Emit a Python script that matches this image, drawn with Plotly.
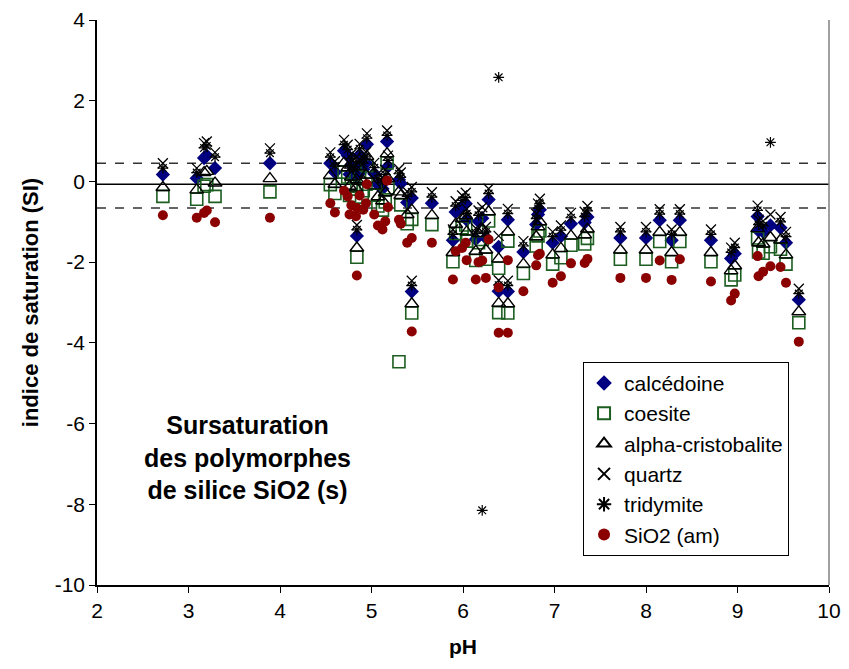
import plotly.graph_objects as go

# ---- data ----
ph = [2.72, 3.09, 3.17, 3.20, 3.29, 3.89,
      4.55, 4.60, 4.70, 4.74, 4.76, 4.78, 4.83, 4.84, 4.84, 4.87, 4.91, 4.94, 4.95,
      5.03, 5.07, 5.12, 5.15, 5.17, 5.18, 5.30, 5.32, 5.39, 5.44, 5.44,
      5.66, 5.89, 5.92, 5.99, 6.03, 6.04, 6.14, 6.17, 6.21, 6.25, 6.28, 6.39, 6.39,
      6.49, 6.49, 6.66, 6.80, 6.82, 6.84, 6.98, 7.07, 7.18, 7.33, 7.36,
      7.72, 8.00, 8.15, 8.28, 8.37, 8.71, 8.93, 8.97, 9.22, 9.23, 9.28, 9.36, 9.47,
      9.53, 9.67]

calcedoine = [0.17, 0.08, 0.58, 0.64, 0.33, 0.45,
              0.45, 0.23, 0.76, 0.64, 0.18, 0.41, 0.14, 0.34, -1.35, 0.66, 0.30, 0.46, 0.92,
              0.19, -0.08, -0.18, 0.02, 0.99, 0.37, 0.04, -0.05, -0.52, -0.41, -2.73,
              -0.54, -1.46, -0.76, -0.62, -0.55, -0.95, -1.43, -0.99, -0.91, -1.40, -0.45, -1.62, -2.72,
              -0.95, -2.73, -1.75, -1.07, -0.82, -0.70, -1.52, -1.36, -1.05, -1.02, -0.88,
              -1.40, -1.40, -0.96, -1.46, -0.96, -1.46, -1.91, -1.79, -0.87, -1.22, -1.25, -1.09, -1.15,
              -1.52, -2.93]

coesite = [-0.37, -0.44, -0.12, -0.08, -0.37, -0.26,
           -0.08, -0.30, 0.23, 0.11, -0.35, -0.12, -0.39, -0.19, -1.88, 0.13, -0.23, -0.07, 0.39,
           -0.34, -0.61, -0.71, -0.51, 0.46, -0.16, -4.47, -0.58, -1.05, -0.94, -3.26,
           -1.07, -1.99, -1.29, -1.15, -1.08, -1.48, -1.96, -1.52, -1.44, -1.93, -0.98, -2.15, -3.25,
           -1.48, -3.26, -2.28, -1.60, -1.35, -1.23, -2.05, -1.89, -1.58, -1.55, -1.41,
           -1.93, -1.93, -1.49, -1.99, -1.49, -1.99, -2.44, -2.32, -1.40, -1.75, -1.78, -1.62, -1.68,
           -2.05, -3.50]

alpha_cristobalite = [-0.15, -0.21, 0.22, 0.25, -0.04, 0.07,
                      0.15, -0.07, 0.46, 0.34, -0.12, 0.11, -0.16, 0.04, -1.65, 0.36, 0.00, 0.16, 0.62,
                      -0.11, -0.38, -0.48, -0.28, 0.69, 0.07, -0.26, -0.35, -0.82, -0.71, -3.03,
                      -0.84, -1.76, -1.06, -0.92, -0.85, -1.25, -1.73, -1.29, -1.21, -1.70, -0.75, -1.92, -3.02,
                      -1.25, -3.03, -2.05, -1.37, -1.12, -1.00, -1.82, -1.66, -1.35, -1.32, -1.18,
                      -1.70, -1.70, -1.26, -1.76, -1.26, -1.76, -2.21, -2.09, -1.17, -1.52, -1.55, -1.39, -1.45,
                      -1.82, -3.23]

quartz = [0.45, 0.33, 0.95, 0.99, 0.72, 0.82,
          0.72, 0.50, 1.03, 0.91, 0.45, 0.68, 0.41, 0.61, -1.08, 0.93, 0.57, 0.73, 1.19,
          0.46, 0.19, 0.09, 0.29, 1.26, 0.64, 0.31, 0.22, -0.25, -0.14, -2.46,
          -0.27, -1.19, -0.49, -0.35, -0.28, -0.68, -1.16, -0.72, -0.64, -1.13, -0.18, -1.35, -2.45,
          -0.68, -2.46, -1.48, -0.80, -0.55, -0.43, -1.25, -1.09, -0.78, -0.75, -0.61,
          -1.13, -1.13, -0.69, -1.19, -0.69, -1.19, -1.64, -1.52, -0.60, -0.95, -0.98, -0.82, -0.88,
          -1.25, -2.66]

tridymite = [0.33, 0.22, 0.83, 0.88, 0.60, 0.70,
             0.60, 0.38, 0.91, 0.79, 0.33, 0.56, 0.29, 0.49, -1.20, 0.81, 0.45, 0.61, 1.07,
             0.34, 0.07, -0.03, 0.17, 1.14, 0.52, 0.19, 0.10, -0.37, -0.26, -2.58,
             -0.39, -1.31, -0.61, -0.47, -0.40, -0.80, -1.28, -0.84, -8.15, -1.25, -0.30, 2.58, -2.57,
             -0.80, -2.58, -1.60, -0.92, -0.67, -0.55, -1.37, -1.21, -0.90, -0.87, -0.73,
             -1.25, -1.25, -0.81, -1.31, -0.81, -1.31, -1.76, -1.64, -0.72, -1.07, -1.10, 0.97, -1.00,
             -1.37, -2.78]

sio2_am = [-0.84, -0.90, -0.78, -0.72, -1.01, -0.90,
           -0.54, -0.77, -0.23, -0.37, -0.82, -0.59, -0.86, -0.66, -2.33, -0.35, -0.70, -0.54, -0.07,
           -0.82, -1.09, -1.19, -0.99, 0.02, -0.64, -0.95, -1.05, -1.52, -1.40, -3.72,
           -1.52, -2.43, -1.73, -1.65, -1.52, -1.95, -2.43, -2.00, -1.96, -2.39, -1.44, -2.63, -3.75,
           -1.95, -3.75, -2.72, -2.08, -1.83, -1.79, -2.51, -2.35, -2.03, -2.02, -1.92,
           -2.39, -2.39, -1.96, -2.44, -1.93, -2.48, -2.95, -2.78, -1.85, -2.35, -2.24, -2.10, -2.12,
           -2.51, -3.97]

ref_lines = [0.45, -0.07, -0.66]   # upper dashed, solid, lower dashed
x_ticks = [2, 3, 4, 5, 6, 7, 8, 9, 10]
y_ticks = [-10, -8, -6, -4, -2, 0, 2, 4]
y_ticklabels = ["-10", "-8", "-6", "-4", "-2", "0", "2", "4"]

FONT = "Liberation Sans, Arial, sans-serif"

fig = go.Figure()

series = [
    ("calcédoine", calcedoine, dict(symbol="diamond", size=11, color="#000080",
                                   line=dict(width=0))),
    ("coesite", coesite, dict(symbol="square-open", size=12, color="#1b5e20",
                              line=dict(width=1.6, color="#1b5e20"))),
    ("alpha-cristobalite", alpha_cristobalite, dict(symbol="triangle-up-open", size=12, color="black",
                                                    line=dict(width=1.4, color="black"))),
    ("quartz", quartz, dict(symbol="x-thin-open", size=10, color="black",
                            line=dict(width=1.3, color="black"))),
    ("tridymite", tridymite, dict(symbol="asterisk-open", size=9, color="black",
                                  line=dict(width=1.2, color="black"))),
    ("SiO2 (am)", sio2_am, dict(symbol="circle", size=10, color="#8b0000",
                                line=dict(width=0))),
]
for name, vals, mk in series:
    fig.add_trace(go.Scatter(x=ph, y=vals, mode="markers", name=name, marker=mk))

for i, yv in enumerate(ref_lines):
    fig.add_shape(type="line", xref="x", yref="y", x0=2, x1=10, y0=yv, y1=yv,
                  line=dict(color="black" if i == 1 else "#333333", width=1.5,
                            dash="solid" if i == 1 else "dash"), layer="below")

# right border of the plot area
fig.add_shape(type="line", xref="paper", yref="paper", x0=1, x1=1, y0=0, y1=1,
              line=dict(color="#808080", width=1.5))

fig.add_annotation(x=3.64, y=-6.84, xref="x", yref="y",
                   text="<b>Sursaturation<br>des polymorphes<br>de silice SiO2 (s)</b>",
                   showarrow=False, align="center",
                   font=dict(family=FONT, size=25, color="black"))

fig.update_layout(
    width=833, height=653,
    margin=dict(l=89, r=12, t=12, b=76, autoexpand=False),
    paper_bgcolor="white", plot_bgcolor="white",
    font=dict(family=FONT, color="black"),
    showlegend=True,
    legend=dict(x=0.664, y=0.395, xanchor="left", yanchor="top",
                bgcolor="white", bordercolor="black", borderwidth=1,
                font=dict(family=FONT, size=21, color="black"),
                tracegroupgap=0, itemsizing="constant"),
    xaxis=dict(range=[2, 10], tickvals=x_ticks, ticks="outside", ticklen=6,
               tickcolor="black", showline=True, linecolor="black", linewidth=1.5,
               showgrid=False, zeroline=False, automargin=False,
               ticklabeloverflow="allow",
               tickfont=dict(size=21, family=FONT),
               title=dict(text="<b>pH</b>", font=dict(size=21, family=FONT), standoff=18)),
    yaxis=dict(range=[-10, 4], tickvals=y_ticks, ticktext=y_ticklabels, ticks="outside", ticklen=6,
               tickcolor="black", showline=True, linecolor="black", linewidth=1.5,
               showgrid=False, zeroline=False, automargin=False,
               ticklabeloverflow="allow",
               tickfont=dict(size=21, family=FONT),
               title=dict(text="<b>indice de saturation (SI)</b>", font=dict(size=22, family=FONT),
                          standoff=10)),
)

fig.write_html("out.html")
